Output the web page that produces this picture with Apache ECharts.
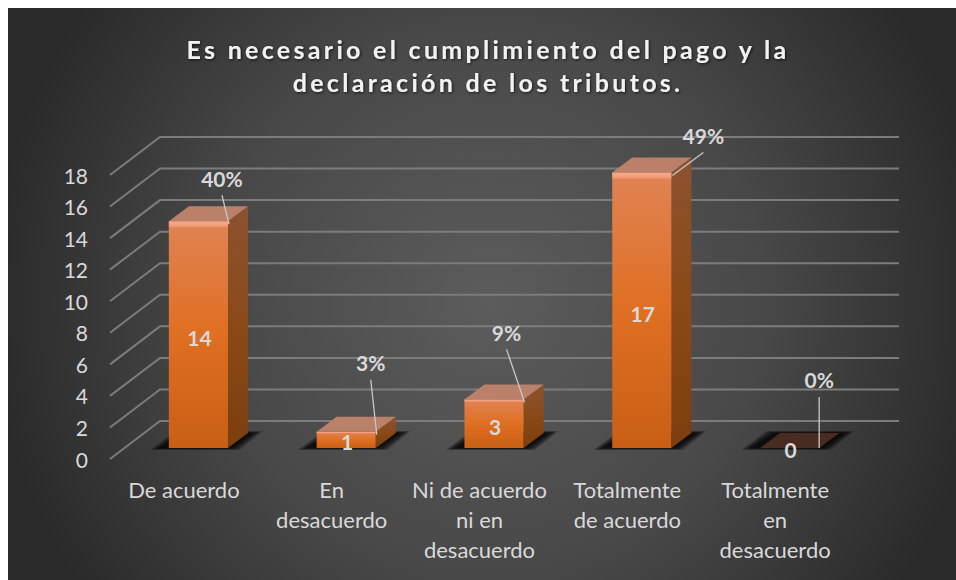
<!DOCTYPE html>
<html>
<head>
<meta charset="utf-8">
<script src="https://cdn.jsdelivr.net/npm/echarts@6/dist/echarts.min.js"></script>
<style>
html,body{margin:0;padding:0;background:#fff;}
#c{width:956px;height:580px;}
</style>
</head>
<body>
<div id="c"></div>
<script>
var titleText = 'Es necesario el cumplimiento del pago y la\ndeclaración de los tributos.';
var categories = ['De acuerdo', 'En\ndesacuerdo', 'Ni de acuerdo\nni en\ndesacuerdo', 'Totalmente\nde acuerdo', 'Totalmente\nen\ndesacuerdo'];
var counts = [14, 1, 3, 17, 0];
var percents = ['40%', '3%', '9%', '49%', '0%'];
var yTicks = [0, 2, 4, 6, 8, 10, 12, 14, 16, 18];
// leader layout: [label dx, label dy] from front top right corner of each bar
var leaderOffsets = [[-6, -43], [-5, -69], [-17, -67], [32, -37], [0, -68]];

var WALL_DX = 50, WALL_DY = -38, DEPTH_DX = 20, DEPTH_DY = -15, BAR_SHIFT = 14.5;
var TEXT = '#d9d9d9', FONT = 'Lato';

function renderWall(params, api) {
  var cs = params.coordSys;
  var y = api.coord([0, api.value(1)])[1];
  var x0 = cs.x, x1 = cs.x + WALL_DX, x2 = cs.x + cs.width + WALL_DX, y2 = y + WALL_DY;
  return {
    type: 'polyline', silent: true,
    shape: { points: [[x0, y], [x1, y2], [x2, y2]] },
    style: { fill: null, stroke: '#7c7c7c', lineWidth: 2 }
  };
}

function renderBar(params, api) {
  var idx = api.value(0), val = api.value(1);
  var p0 = api.coord([idx, 0]), pv = api.coord([idx, val]);
  var w = api.size([1, 0])[0] * 0.4;
  var cx = p0[0] + BAR_SHIFT, l = cx - w / 2, r = cx + w / 2;
  var b = p0[1], t = pv[1], h = b - t;
  var dx = DEPTH_DX, dy = DEPTH_DY;
  var ch = [];
  // soft base shadow: stacked translucent footprints feather the edge
  for (var e = 10; e >= 0; e--) {
    ch.push({ type: 'polygon', silent: true,
      shape: { points: [[l - 9 - e, b + 0.2 * e], [r + 2 + e, b + 0.2 * e], [r + dx + 5 + e, b + dy - 0.2 * e], [l + dx - 4 - e, b + dy - 0.2 * e]] },
      style: { fill: 'rgba(0,0,0,0.13)' } });
  }
  if (h > 0.5) {
    ch.push({ type: 'polygon', silent: true,
      shape: { points: [[r, t], [r + dx, t + dy], [r + dx, b + dy], [r, b]] },
      style: { fill: new echarts.graphic.LinearGradient(0, 0, 0, 1, [
        { offset: 0, color: '#8c5230' }, { offset: 0.5, color: '#8a4a18' }, { offset: 1, color: '#7c3e0e' }]) } });
    ch.push({ type: 'rect', silent: true,
      shape: { x: l, y: t, width: w, height: h },
      style: { fill: new echarts.graphic.LinearGradient(0, 0, 0, 1, [
        { offset: 0, color: '#e08355' }, { offset: 0.5, color: '#df6f22' }, { offset: 1, color: '#c85f14' }]) } });
    var band = Math.min(6, h * 0.03 + 1);
    ch.push({ type: 'rect', silent: true,
      shape: { x: l, y: t, width: w, height: band },
      style: { fill: new echarts.graphic.LinearGradient(0, 0, 0, 1, [
        { offset: 0, color: '#fbab90' }, { offset: 1, color: '#ed9670' }]) } });
  }
  ch.push({ type: 'polygon', silent: true,
    shape: { points: [[l, t], [r, t], [r + dx, t + dy], [l + dx, t + dy]] },
    style: { fill: h > 0.5 ? '#ba8069' : '#482c22' } });
  // leader line
  var off = leaderOffsets[idx];
  var lx = r + off[0], ly = t + off[1];
  ch.push({ type: 'line', silent: true,
    shape: { x1: lx, y1: ly + 17, x2: r + (h > 0.5 ? 1 : 0), y2: t + (h > 0.5 ? 3 : 0) },
    style: { stroke: '#c9c9c9', lineWidth: 1.3 } });
  // value label
  ch.push({ type: 'text', silent: true,
    style: { x: cx + 1, y: h > 40 ? (t + b) / 2 + 3 : (h > 0.5 ? (t + b) / 2 + (h > 20 ? 1 : 2) : b + 2), text: String(val),
      fill: TEXT, font: 'bold 21px ' + FONT, align: 'center', verticalAlign: 'middle' } });
  // percent label
  ch.push({ type: 'text', silent: true,
    style: { x: lx, y: ly, text: percents[idx], fill: TEXT, font: 'bold 21px ' + FONT, align: 'center', verticalAlign: 'middle' } });
  return { type: 'group', children: ch };
}

var host = document.getElementById('c');
var chart = echarts.init(host, null, { renderer: 'svg', width: 956, height: 580 });

// the title's wide tracking is a CSS property of the SVG text
function spaceTitle() {
  var first = titleText.split('\n');
  host.querySelectorAll('svg text').forEach(function (n) {
    var s = n.textContent;
    if ((s.indexOf(first[0]) >= 0 || s.indexOf(first[1]) >= 0) && n.style.letterSpacing !== '3.3px') {
      n.style.letterSpacing = '3.3px';
    }
  });
}
new MutationObserver(spaceTitle).observe(host, { childList: true, subtree: true });
chart.on('finished', spaceTitle);

chart.setOption({
  animation: false,
  backgroundColor: '#ffffff',
  graphic: [{
    type: 'rect', z: -10, silent: true,
    shape: { x: 8, y: 8, width: 948, height: 572 },
    style: { fill: new echarts.graphic.RadialGradient(490, 300, 500, [
      { offset: 0, color: '#5c5c5c' }, { offset: 0.55, color: '#484848' }, { offset: 1, color: '#2a2a2a' }], true) }
  }],
  title: {
    text: titleText, left: 483, top: 27, textAlign: 'center',
    textStyle: { color: '#f2f2f2', fontFamily: FONT, fontWeight: 'bold', fontSize: 25, lineHeight: 33,
      textShadowColor: 'rgba(0,0,0,0.7)', textShadowBlur: 3, textShadowOffsetX: 1, textShadowOffsetY: 1 }
  },
  grid: { left: 110, right: 107, top: 175, height: 284, containLabel: false },
  xAxis: {
    type: 'category', data: categories, boundaryGap: true,
    axisLine: { show: false }, axisTick: { show: false },
    axisLabel: { color: TEXT, fontFamily: FONT, fontSize: 22, lineHeight: 30, margin: 15, interval: 0 }
  },
  yAxis: [{
    type: 'value', min: 0, max: 18, interval: 2,
    axisLine: { show: false }, axisTick: { show: false }, splitLine: { show: false },
    axisLabel: { color: TEXT, fontFamily: FONT, fontSize: 21, margin: 22, padding: [3, 0, 0, 0] }
  }, {
    // bars stand slightly deeper in the 3-D box: own hidden scale
    type: 'value', min: -0.679, max: 16.85, show: false, splitLine: { show: false }
  }],
  series: [{
    type: 'custom', coordinateSystem: 'cartesian2d', xAxisIndex: 0, yAxisIndex: 0, silent: true, z: 1,
    renderItem: renderWall, data: yTicks.map(function (v) { return [0, v]; }), clip: false
  }, {
    type: 'custom', coordinateSystem: 'cartesian2d', xAxisIndex: 0, yAxisIndex: 1, silent: true, z: 2,
    renderItem: renderBar, data: counts.map(function (v, i) { return [i, v]; }), clip: false
  }]
});
spaceTitle();
</script>
</body>
</html>
